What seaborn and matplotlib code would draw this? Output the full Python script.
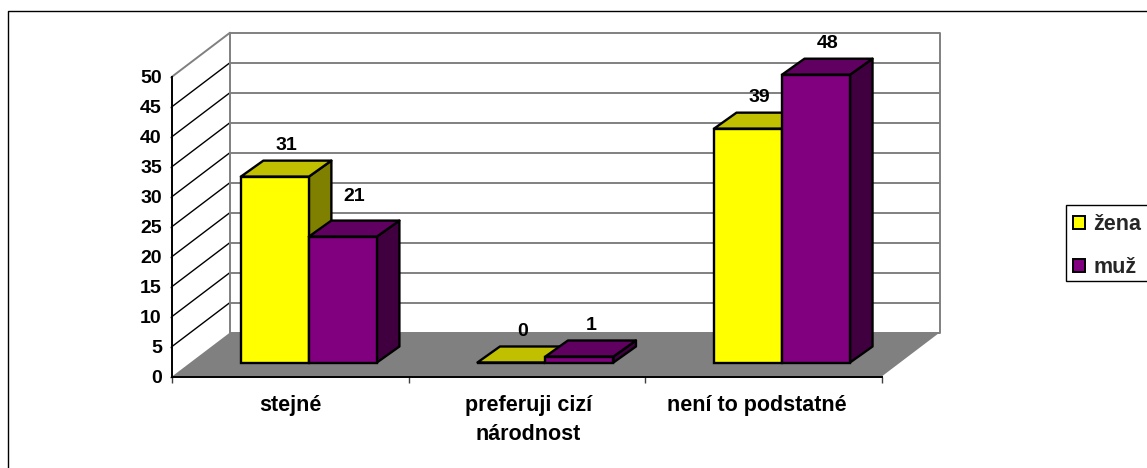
import matplotlib
matplotlib.use("Agg")
import matplotlib.pyplot as plt
import seaborn as sns
import pandas as pd
from matplotlib.patches import Polygon, Rectangle

categories = ["stejné", "preferuji cizí\nnárodnost", "není to podstatné"]
zena = [31, 0, 39]
muz = [21, 1, 48]
series = ["žena", "muž"]
yticks = list(range(0, 55, 5))

W, H = 1147, 468
X0, X1 = 172, 881.7
Y0, Y50 = 376.5, 76.7
FS = 14
FS_WIDE = 15.5   # the original text is set with wide letter spacing
LW = 1.7

front = {"žena": "#ffff00", "muž": "#800080"}
side = {"žena": "#808000", "muž": "#400040"}
top = {"žena": "#c0c000", "muž": "#600060"}

sns.set_theme(style="white")
plt.rcParams["font.family"] = ["Liberation Sans", "DejaVu Sans"]
plt.rcParams["font.weight"] = "bold"

df = pd.DataFrame({
    "kategorie": categories * 2,
    "pohlavi": [series[0]] * 3 + [series[1]] * 3,
    "hodnota": zena + muz,
})

fig = plt.figure(figsize=(W / 100, H / 100), dpi=100)
ax = fig.add_axes([X0 / W, 1 - Y0 / H, (X1 - X0) / W, (Y0 - Y50) / H])

sns.barplot(data=df, x="kategorie", y="hodnota", hue="pohlavi", hue_order=series,
            palette=front, saturation=1, width=0.575, gap=0, ax=ax,
            edgecolor="black", linewidth=LW, legend=False)
ax.set_xlim(-0.5, 2.5)
ax.set_ylim(0, 50)

px_x = (X1 - X0) / 3        # pixels per category
px_y = (Y0 - Y50) / 50      # pixels per unit
wall_dx, wall_dy = 58 / px_x, 44 / px_y
base_dx, base_dy = 18.6 / px_x, 14 / px_y
bar_dx, bar_dy = 22.5 / px_x, 16 / px_y

# walls, floor and grid
ax.add_patch(Polygon([(-0.5, 0), (2.5, 0), (2.5 + wall_dx, wall_dy), (-0.5 + wall_dx, wall_dy)],
                     fc="#808080", ec="none", zorder=1, clip_on=False))
for t in yticks:
    ax.plot([-0.5 + wall_dx, 2.5 + wall_dx], [t + wall_dy] * 2, color="#808080", lw=1.4,
            zorder=1.5, clip_on=False, solid_capstyle="butt")
    if t > 0:
        ax.plot([-0.5, -0.5 + wall_dx], [t, t + wall_dy], color="#808080" if t == 50 else "black",
                lw=1.4 if t == 50 else 1, zorder=1.5, clip_on=False)
for xv in [-0.5, 2.5]:
    ax.plot([xv + wall_dx] * 2, [wall_dy, 50 + wall_dy], color="#808080", lw=1.4, zorder=1.5, clip_on=False)

# extrude the bars from what seaborn drew
bars = []
for name, cont in zip(series, ax.containers):
    for p in cont:
        bars.append((name, p))
bars.sort(key=lambda b: b[1].get_x())
for i, (name, p) in enumerate(bars):
    p.set_x(p.get_x() + base_dx)
    p.set_y(base_dy)
    p.set_clip_on(False)
    z = 3 + i
    p.set_zorder(z + 0.5)
    x, w, h = p.get_x(), p.get_width(), p.get_height()
    yb, yt = base_dy, base_dy + h
    ax.add_patch(Polygon([(x + w, yb), (x + w + bar_dx, yb + bar_dy), (x + w + bar_dx, yt + bar_dy), (x + w, yt)],
                         fc=side[name], ec="black", lw=LW, zorder=z, joinstyle="round", clip_on=False))
    ax.add_patch(Polygon([(x, yt), (x + bar_dx, yt + bar_dy), (x + w + bar_dx, yt + bar_dy), (x + w, yt)],
                         fc=top[name], ec="black", lw=LW, zorder=z, joinstyle="round", clip_on=False))
    ax.text(x + w / 2 + bar_dx / 2, yt + bar_dy + (24 if h == 21 else 15) / px_y, f"{h:.0f}", ha="center", va="center",
            fontsize=FS, fontweight="bold", color="black", zorder=20)

# axes
sns.despine(ax=ax, top=True, right=True)
for s in ["left", "bottom"]:
    ax.spines[s].set_color("black")
    ax.spines[s].set_linewidth(1.4)
    ax.spines[s].set_zorder(2)
ax.set_yticks(yticks)
ax.set_xticks([-0.5, 0.5, 1.5, 2.5], minor=False)
ax.set_xticklabels([])
ax.tick_params(axis="x", bottom=True, length=4.3, width=1, color="#404040")
ax.tick_params(axis="y", left=True, length=1.5, width=1, color="#404040", pad=5.8, labelsize=FS, labelcolor="black")
ax.set_xlabel("")
ax.set_ylabel("")
for i, (c, shift) in enumerate(zip(categories, [0, 1.5, -7])):
    ax.text(i + shift / px_x, -18 / px_y, c, ha="center", va="top", fontsize=FS_WIDE, fontweight="bold",
            color="black", linespacing=1.55)

# chart border
fig.add_artist(plt.Line2D([8 / W, 8 / W, 1], [0, 1 - 11 / H, 1 - 11 / H], color="black", lw=1))

# legend, box runs off the right edge like the original
fig.add_artist(Rectangle((1065.5 / W, 1 - 280.7 / H), 100 / W, 75.7 / H, transform=fig.transFigure,
                         fc="white", ec="black", lw=1))
handles = [plt.Rectangle((0, 0), 1, 1, fc=front[s], ec="black", lw=1.4) for s in series]
leg = fig.legend(handles, series, loc="center left", bbox_to_anchor=(1073 / W, 1 - 246 / H),
                 borderaxespad=0, borderpad=0, frameon=False, fontsize=FS_WIDE,
                 handlelength=0.56, handleheight=0.56, handletextpad=0.37, labelspacing=1.05)

fig.savefig("out.png", dpi=100, facecolor="white")
